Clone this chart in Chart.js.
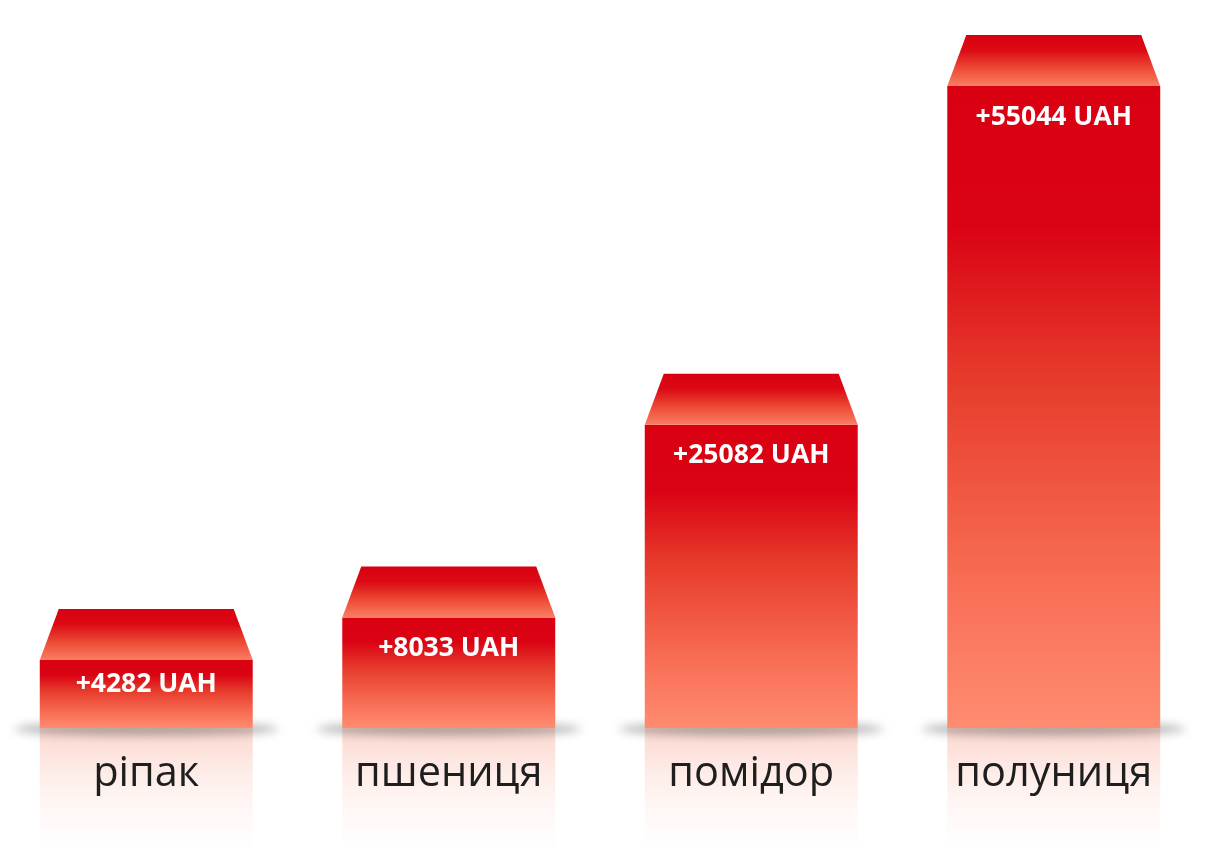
<!DOCTYPE html>
<html>
<head>
<meta charset="utf-8">
<script src="https://cdn.jsdelivr.net/npm/chart.js@4/dist/chart.umd.min.js"></script>
<style>
  html, body { margin: 0; padding: 0; background: #ffffff; overflow: hidden; }
  #wrap { position: absolute; left: -5px; top: 0; width: 1210px; height: 862px; }
</style>
</head>
<body>
<div id="wrap"><canvas id="c"></canvas></div>
<script>
const categories = ["ріпак", "пшениця", "помідор", "полуниця"];
const values = [4282, 8033, 25082, 55044];
const valueLabels = ["+4282 UAH", "+8033 UAH", "+25082 UAH", "+55044 UAH"];

const AXIS_MIN = -1732;
const AXIS_MAX = 55044;
const TOP_DEPTH = 51;
const TOP_INSET = 19;

function frontGradient(ctx, top, bottom) {
  const g = ctx.createLinearGradient(0, top, 0, bottom);
  g.addColorStop(0, '#d90011');
  g.addColorStop(0.22, '#da0314');
  g.addColorStop(0.45, '#e63a2b');
  g.addColorStop(0.75, '#f76a52');
  g.addColorStop(1, '#ff8c70');
  return g;
}

const decor = {
  id: 'decor',
  beforeDatasetsDraw(chart) {
    const ctx = chart.ctx;
    const meta = chart.getDatasetMeta(0);
    const base = chart.scales.y.getPixelForValue(AXIS_MIN);
    meta.data.forEach((bar) => {
      const w = bar.width;
      const left = bar.x - w / 2;
      ctx.save();
      const rg = ctx.createLinearGradient(0, base, 0, base + 125);
      rg.addColorStop(0, 'rgba(248,150,130,0.38)');
      rg.addColorStop(0.5, 'rgba(250,170,150,0.15)');
      rg.addColorStop(1, 'rgba(255,200,190,0)');
      ctx.fillStyle = rg;
      ctx.fillRect(left, base, w, 125);
      ctx.restore();
      ctx.save();
      ctx.filter = 'blur(5px)';
      ctx.fillStyle = 'rgba(90,90,90,0.45)';
      ctx.beginPath();
      ctx.ellipse(bar.x, base + 1, w / 2 + 26, 7, 0, 0, Math.PI * 2);
      ctx.fill();
      ctx.restore();
    });
  },
  afterDatasetsDraw(chart) {
    const ctx = chart.ctx;
    const meta = chart.getDatasetMeta(0);
    const base = chart.scales.y.getPixelForValue(AXIS_MIN);
    meta.data.forEach((bar, i) => {
      const w = bar.width;
      const left = bar.x - w / 2;
      const right = bar.x + w / 2;
      const top = bar.y;
      ctx.save();
      const tg = ctx.createLinearGradient(0, top - TOP_DEPTH, 0, top);
      tg.addColorStop(0, '#d90011');
      tg.addColorStop(0.3, '#dc0a15');
      tg.addColorStop(0.65, '#ec4a35');
      tg.addColorStop(1, '#fb7e64');
      ctx.fillStyle = tg;
      ctx.beginPath();
      ctx.moveTo(left + TOP_INSET, top - TOP_DEPTH);
      ctx.lineTo(right - TOP_INSET, top - TOP_DEPTH);
      ctx.lineTo(right, top);
      ctx.lineTo(left, top);
      ctx.closePath();
      ctx.fill();
      ctx.restore();
      const h = base - top;
      ctx.save();
      ctx.fillStyle = '#ffffff';
      ctx.font = 'bold 26.5px "Open Sans", sans-serif';
      ctx.textAlign = 'center';
      ctx.textBaseline = 'middle';
      ctx.fillText(valueLabels[i], bar.x, top + Math.min(30, h * 0.35) + 1);
      ctx.restore();
      ctx.save();
      ctx.fillStyle = '#1e1e1e';
      ctx.font = '41.5px "Open Sans", sans-serif';
      ctx.textAlign = 'center';
      ctx.textBaseline = 'alphabetic';
      ctx.fillText(categories[i], bar.x, 786);
      ctx.restore();
    });
  }
};

new Chart(document.getElementById('c'), {
  type: 'bar',
  data: {
    labels: categories,
    datasets: [{
      data: values,
      base: AXIS_MIN,
      barPercentage: 0.704,
      categoryPercentage: 1.0,
      borderWidth: 0,
      backgroundColor: (c) => {
        const chart = c.chart;
        if (!chart.chartArea || c.parsed == null) return '#e02a20';
        const y = chart.scales.y;
        return frontGradient(chart.ctx, y.getPixelForValue(c.parsed.y), y.getPixelForValue(AXIS_MIN));
      }
    }]
  },
  options: {
    responsive: true,
    maintainAspectRatio: false,
    animation: false,
    layout: { padding: { top: 86, bottom: 134, left: 0, right: 0 } },
    plugins: { legend: { display: false }, tooltip: { enabled: false } },
    scales: {
      x: { display: false },
      y: { display: false, min: AXIS_MIN, max: AXIS_MAX }
    }
  },
  plugins: [decor]
});
</script>
</body>
</html>
